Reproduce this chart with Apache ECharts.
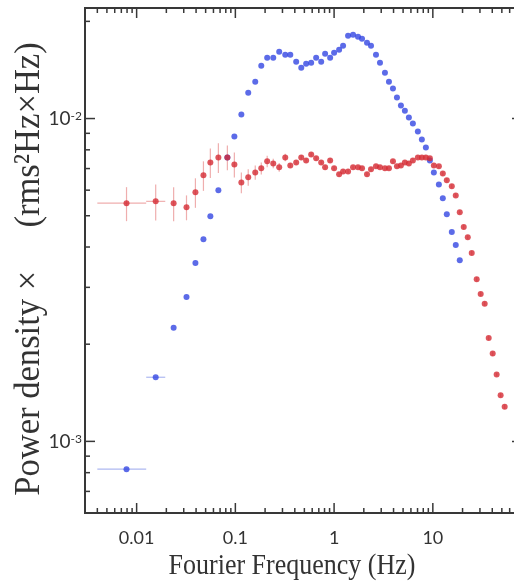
<!DOCTYPE html>
<html>
<head>
<meta charset="utf-8">
<script src="https://cdn.jsdelivr.net/npm/echarts@6/dist/echarts.min.js"></script>
<style>
  html, body { margin: 0; padding: 0; background: #ffffff; }
  #chart { width: 514px; height: 585px; }
</style>
</head>
<body>
<div id="chart"></div>
<script>
// Fourier frequencies (Hz), shared by both power spectra
const freq = [
  0.0079, 0.0156, 0.0237, 0.032, 0.0394, 0.0475, 0.0558, 0.0673, 0.083, 0.0977,
  0.115, 0.135, 0.159, 0.183, 0.21, 0.242, 0.278, 0.32, 0.36, 0.413,
  0.465, 0.521, 0.586, 0.658, 0.74, 0.811, 0.912, 1.0, 1.124, 1.233,
  1.385, 1.556, 1.747, 1.918, 2.154, 2.365, 2.656, 2.915, 3.273, 3.594,
  3.946, 4.33, 4.75, 5.21, 5.72, 6.28, 7.05, 7.74, 8.5, 9.33,
  10.24, 11.51, 12.62, 13.85, 15.56, 17.07, 18.74, 20.56, 22.58, 24.77,
  27.81, 30.53, 33.51, 36.8, 40.4, 44.3, 48.6, 53.4
];

// blue spectrum: power density x frequency (rms^2)
const bluePower = [
  0.00082, 0.00158, 0.00225, 0.0028, 0.00357, 0.00423, 0.00498, 0.006, 0.00758, 0.0088,
  0.01029, 0.01203, 0.013, 0.01458, 0.01543, 0.01543, 0.0161, 0.01576, 0.01576, 0.01499,
  0.01437, 0.01478, 0.01489, 0.01543, 0.01499, 0.01587, 0.01543, 0.01598, 0.01633, 0.0168,
  0.01804, 0.01817, 0.01791, 0.01766, 0.01716, 0.0168, 0.01576, 0.01489, 0.01387, 0.013,
  0.01238, 0.01161, 0.01097, 0.01058, 0.01007, 0.00965, 0.00912, 0.00861, 0.00814, 0.00742,
  0.00681, 0.00625, 0.00566, 0.00505, 0.00445, 0.00406, 0.00364
];

// red spectrum: power density x frequency (rms^2)
const redPower = [
  0.00547, 0.00554, 0.00547, 0.00531, 0.00591, 0.00667, 0.00731, 0.00758, 0.00758, 0.00721,
  0.00634, 0.00658, 0.00681, 0.00701, 0.00737, 0.00726, 0.00706, 0.00758, 0.00716, 0.00731,
  0.00758, 0.00742, 0.00774, 0.00753, 0.00731, 0.00706, 0.00742, 0.00701, 0.00672, 0.00686,
  0.00686, 0.00706, 0.00706, 0.00701, 0.00672, 0.00696, 0.00711, 0.00706, 0.00701, 0.00701,
  0.00737, 0.00711, 0.00716, 0.00731, 0.00726, 0.00742, 0.00758, 0.00758, 0.00758, 0.00753,
  0.00716, 0.00711, 0.00676, 0.00644, 0.00617, 0.00578, 0.00513, 0.00461, 0.00429, 0.00383,
  0.00318, 0.00286, 0.00267, 0.00209, 0.00187, 0.00161, 0.00139, 0.00128
];

// 1-sigma uncertainties of the red spectrum
const redErr = [
  0.00066, 0.00071, 0.00066, 0.00047, 0.00062, 0.0007, 0.00077, 0.0008, 0.00067, 0.00064,
  0.00047, 0.00039, 0.00035, 0.0003, 0.0003, 0.00025, 0.00022, 0.0002, 0.00011, 0.00011,
  0.00011, 0.00011, 0.00011, 0.00011, 0.00011, 0.00011, 0.00011, 0.0001, 0.0001, 0.0001,
  0.0001, 0.0001, 0.0001, 0.0001, 0.0001, 0.0001, 0.0001, 0.0001, 0.0001, 0.0001,
  0.00011, 0.0001, 0.0001, 0.00011, 0.00011, 0.00011, 0.00011, 0.00011, 0.00011, 0.00011,
  0.0001, 0.0001, 0.0001, 0.0001, 0.00009, 0.00008, 0.00007, 0.00007, 0.00006, 0.00006,
  0.00005, 0.00004, 0.00004, 0.00003, 0.00003, 0.00002, 0.00002, 0.00002
];

// frequency bin edges of the two lowest bins
const binLo = [0.004, 0.0125];
const binHi = [0.0125, 0.0195];

// axis ranges and tick marks
const X_MIN = 0.003, X_MAX = 80;
const Y_MIN = 0.0006, Y_MAX = 0.022;
const xTickValues = [0.01, 0.1, 1, 10];
const xTickLabels = ['0.01', '0.1', '1', '10'];
const xMinorTicks = [0.004, 0.005, 0.006, 0.007, 0.008, 0.009,
  0.02, 0.03, 0.04, 0.05, 0.06, 0.07, 0.08, 0.09,
  0.2, 0.3, 0.4, 0.5, 0.6, 0.7, 0.8, 0.9,
  2, 3, 4, 5, 6, 7, 8, 9,
  20, 30, 40, 50, 60, 70];
const yTickValues = [0.001, 0.01];
const yTickExponents = ['-3', '-2'];
const yMinorTicks = [0.0007, 0.0008, 0.0009,
  0.002, 0.003, 0.004, 0.005, 0.006, 0.007, 0.008, 0.009, 0.02];

const AXIS_COLOR = '#383838';
const RED = '#d42a33';
const BLUE = '#3346e2';

function matchIndex(list, v) {
  for (let i = 0; i < list.length; i++) {
    if (Math.abs(Math.log10(v) - Math.log10(list[i])) < 1e-6) return i;
  }
  return -1;
}

function errorRows(power, err) {
  return power.map((p, i) => {
    const e = err ? err[i] : 0;
    const lo = i < binLo.length ? binLo[i] : freq[i];
    const hi = i < binHi.length ? binHi[i] : freq[i];
    return [freq[i], p, lo, hi, p - e, p + e];
  });
}

function renderErrorBar(color) {
  return function (params, api) {
    const f = api.value(0);
    const children = [];
    const pLo = api.value(4), pHi = api.value(5);
    if (pHi > pLo) {
      const a = api.coord([f, pLo]), b = api.coord([f, pHi]);
      children.push({ type: 'line', shape: { x1: a[0], y1: a[1], x2: b[0], y2: b[1] },
        style: { stroke: color, lineWidth: 1.2 } });
    }
    const fLo = api.value(2), fHi = api.value(3), p = api.value(1);
    if (fHi > fLo) {
      const a = api.coord([fLo, p]), b = api.coord([fHi, p]);
      children.push({ type: 'line', shape: { x1: a[0], y1: a[1], x2: b[0], y2: b[1] },
        style: { stroke: color, lineWidth: 1.2 } });
    }
    return { type: 'group', children };
  };
}

// ticks drawn inward on all four sides of the frame
function renderXTick(params, api) {
  const v = api.value(0);
  const len = api.value(2) ? 10 : 5;
  const b = api.coord([v, Y_MIN]);
  const t = api.coord([v, Y_MAX]);
  const style = { stroke: AXIS_COLOR, lineWidth: 1.5 };
  return { type: 'group', children: [
    { type: 'line', shape: { x1: b[0], y1: b[1], x2: b[0], y2: b[1] - len }, style },
    { type: 'line', shape: { x1: t[0], y1: t[1], x2: t[0], y2: t[1] + len }, style }
  ] };
}
function renderYTick(params, api) {
  const v = api.value(1);
  const len = api.value(2) ? 10 : 5;
  const l = api.coord([X_MIN, v]);
  const r = api.coord([X_MAX, v]);
  const style = { stroke: AXIS_COLOR, lineWidth: 1.5 };
  return { type: 'group', children: [
    { type: 'line', shape: { x1: l[0], y1: l[1], x2: l[0] + len, y2: l[1] }, style },
    { type: 'line', shape: { x1: r[0], y1: r[1], x2: r[0] - len, y2: r[1] }, style }
  ] };
}

const xTickData = xTickValues.map(v => [v, Y_MIN, 1]).concat(xMinorTicks.map(v => [v, Y_MIN, 0]));
const yTickData = yTickValues.map(v => [X_MIN, v, 1]).concat(yMinorTicks.map(v => [X_MIN, v, 0]));

const chart = echarts.init(document.getElementById('chart'), null, { renderer: 'canvas' });

chart.setOption({
  animation: false,
  backgroundColor: '#ffffff',
  grid: {
    left: 85, top: 8, right: -8, bottom: 72,
    show: true, borderColor: AXIS_COLOR, borderWidth: 2,
    containLabel: false, outerBoundsMode: 'none'
  },
  xAxis: {
    type: 'log', logBase: 10, min: X_MIN, max: X_MAX,
    axisLine: { show: false }, axisTick: { show: false },
    splitLine: { show: false }, minorTick: { show: false },
    axisLabel: {
      margin: 16, color: '#333', fontFamily: 'Lato', fontSize: 18,
      showMinLabel: false, showMaxLabel: false,
      formatter: v => { const i = matchIndex(xTickValues, v); return i < 0 ? '' : xTickLabels[i]; }
    }
  },
  yAxis: {
    type: 'log', logBase: 10, min: Y_MIN, max: Y_MAX,
    axisLine: { show: false }, axisTick: { show: false },
    splitLine: { show: false }, minorTick: { show: false },
    axisLabel: {
      margin: 3, color: '#333',
      showMinLabel: false, showMaxLabel: false,
      formatter: v => { const i = matchIndex(yTickValues, v); return i < 0 ? '' : '{b|10}{s|' + yTickExponents[i] + '}'; },
      rich: {
        b: { fontFamily: 'Lato', fontSize: 19, color: '#333', verticalAlign: 'top' },
        s: { fontFamily: 'Lato', fontSize: 12, color: '#333', verticalAlign: 'top', padding: [1, 0, 0, 0] }
      }
    }
  },
  graphic: [
    {
      type: 'text', x: 292, y: 566, scaleY: 1.1,
      style: {
        text: 'Fourier Frequency (Hz)', fontFamily: 'Liberation Serif', fontSize: 26,
        fill: '#333', align: 'center', verticalAlign: 'middle',
        textAlign: 'center', textVerticalAlign: 'middle'
      }
    },
    {
      type: 'text', x: 29, y: 269, rotation: Math.PI / 2, scaleX: 1.08, scaleY: 1.15,
      style: {
        text: 'Power density \u00d7     (rms\u00b2Hz\u00d7Hz)', fontFamily: 'Liberation Serif', fontSize: 32,
        fill: '#333', align: 'center', verticalAlign: 'middle',
        textAlign: 'center', textVerticalAlign: 'middle'
      }
    }
  ],
  series: [
    {
      type: 'custom', name: 'red errors', renderItem: renderErrorBar('rgba(232,140,140,0.7)'),
      data: errorRows(redPower, redErr), encode: { x: 0, y: 1 }, z: 1, silent: true
    },
    {
      type: 'custom', name: 'blue errors', renderItem: renderErrorBar('rgba(140,155,235,0.7)'),
      data: errorRows(bluePower, null), encode: { x: 0, y: 1 }, z: 1, silent: true
    },
    {
      type: 'scatter', name: 'blue', symbol: 'circle', symbolSize: 6,
      itemStyle: { color: BLUE }, z: 3,
      data: bluePower.map((p, i) => [freq[i], p])
    },
    {
      type: 'scatter', name: 'red', symbol: 'circle', symbolSize: 6,
      itemStyle: { color: RED }, z: 4,
      data: redPower.map((p, i) => [freq[i], p])
    },
    {
      type: 'custom', name: 'x ticks', renderItem: renderXTick,
      data: xTickData, encode: { x: 0, y: 1 }, z: 5, silent: true
    },
    {
      type: 'custom', name: 'y ticks', renderItem: renderYTick,
      data: yTickData, encode: { x: 0, y: 1 }, z: 5, silent: true
    }
  ]
});
</script>
</body>
</html>
